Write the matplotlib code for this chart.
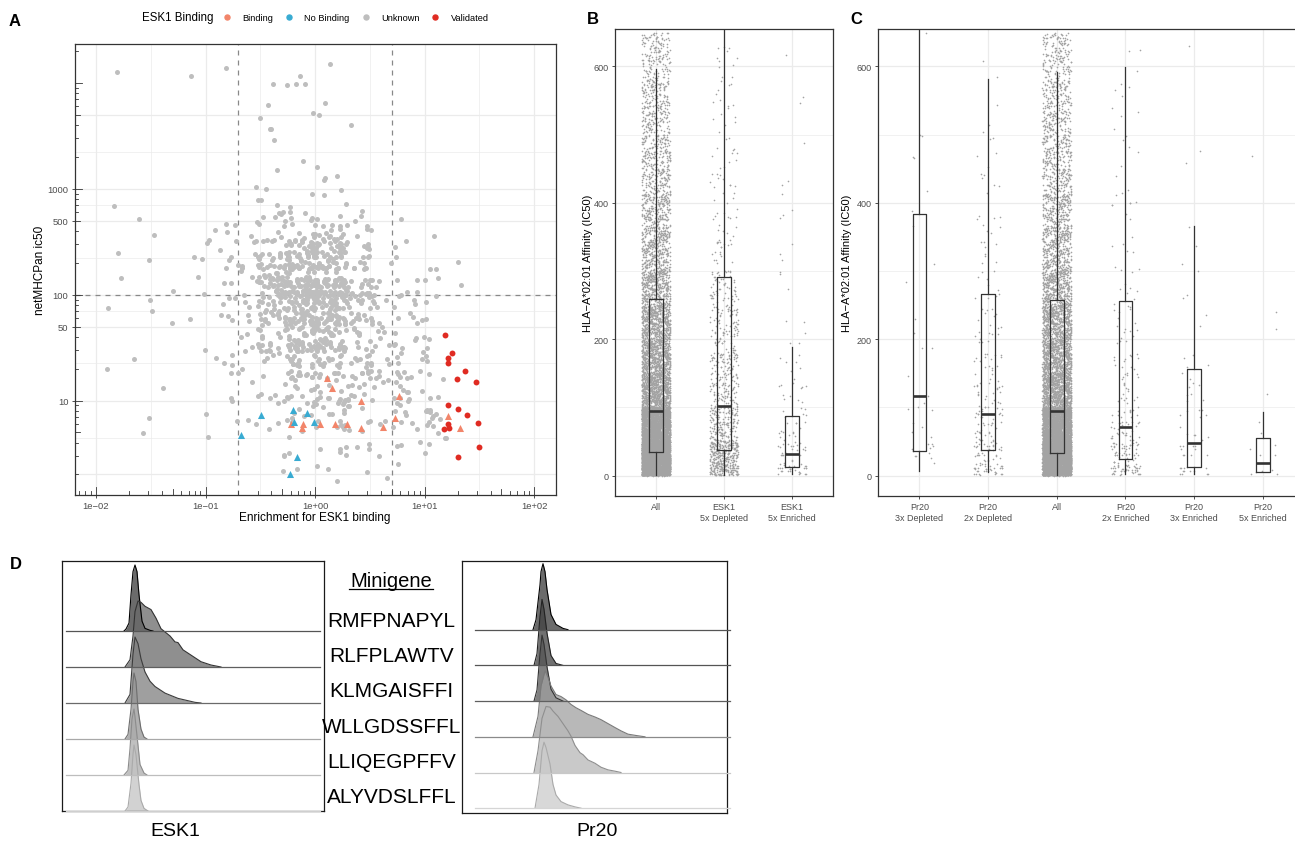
import numpy as np
import matplotlib.pyplot as plt
from matplotlib.lines import Line2D
from matplotlib.ticker import FixedLocator, NullLocator

plt.rcParams['font.family'] = ['Liberation Sans', 'DejaVu Sans']

# ---------------- data ----------------
# panel A: enrichment vs netMHCpan ic50
validated_x = [15.3, 17.7, 16.2, 16.5, 23.1, 19.7, 29.7, 16.2, 20.2, 24.3, 16.2, 30.4, 16.6, 15.1, 31.5, 20.1]
validated_y = [41.3, 28.3, 25.1, 22.6, 18.9, 15.8, 14.9, 9.06, 8.26, 7.24, 5.96, 6.1, 5.5, 5.35, 3.61, 2.93]
binding_x = [1.29, 1.44, 2.60, 5.78, 5.35, 16.4, 21.1, 0.607, 0.774, 0.764, 1.12, 1.52, 1.94, 2.60, 4.19]
binding_y = [16.2, 13.1, 10.0, 11.1, 6.84, 7.10, 5.50, 6.04, 6.0, 5.5, 6.0, 6.0, 6.04, 5.5, 5.58]
nobinding_x = [0.628, 0.836, 0.321, 0.969, 0.637, 0.213, 0.678, 0.589]
nobinding_y = [8.19, 7.57, 7.24, 6.3, 6.22, 4.74, 2.93, 2.02]

# sparse "Unknown" points outside the dense cloud (top, left, right)
unknown_x = [0.0156, 0.0731, 0.153, 1.36, 0.409, 0.553, 0.673, 0.802, 0.722, 1.24, 0.371, 0.962, 1.08,
             0.316, 2.11, 0.387, 0.394, 0.425, 0.774, 1.04, 0.446, 1.59, 1.22, 1.21, 0.291,
             0.0147, 0.0247, 0.0336, 0.0158, 0.0305, 0.0168, 0.0778, 0.0934, 0.0853, 0.123,
             0.157, 0.153, 0.103, 0.107, 0.135, 0.155, 0.0504, 0.0128, 0.0313, 0.0324,
             0.0498, 0.0727, 0.0221, 0.0125, 0.0412, 0.0305, 0.0269, 0.0967, 0.0988, 0.102,
             0.105, 0.147, 0.172, 0.175, 0.149, 0.125, 0.139, 0.159, 0.144, 0.164, 0.175,
             12.2, 11.3, 12.6, 20.1, 13.2, 21.4, 12.8, 10.3, 11.0, 11.2,
             13.3, 10.6, 11.2, 12.6, 11.9, 10.9, 15.4, 11.0, 13.3, 10.3,
             11.1, 11.7, 13.7, 11.9, 14.7, 10.9, 10.3, 10.5, 15.7]
unknown_y = [12800, 11700, 14000, 15200, 9860, 9660, 9860, 9860, 11700, 6530, 6250, 5250, 5030,
             4710, 4040, 3710, 3710, 2920, 1850, 1620, 1520, 1330, 1260, 1220, 1050,
             693, 520, 369, 250, 214, 145, 227, 219, 148, 411,
             394, 469, 310, 327, 266, 180, 109, 75.3, 89.7, 70.6,
             54.4, 59.3, 24.8, 20.0, 13.2, 6.87, 4.97, 102, 30.2, 7.50,
             4.55, 129, 129, 27.1, 22.7, 25.4, 64.3, 63.4, 81.7, 93, 9.96,
             361, 175, 175, 205, 145, 124, 97.2, 85.9, 38.1, 10.5,
             10.9, 8.13, 7.78, 7.41, 7.18, 6.26, 4.43, 3.86, 4.97, 8.0,
             8.2, 6.9, 6.68, 5.78, 16.0, 17.8, 26.5, 23.8, 4.39]

# dense cloud: counts per quarter-decade cell, x log10 -0.75..1.0, y log10 0.25..3.0 (bottom row first)
cloud_x_edges = [-0.75, -0.5, -0.25, 0.0, 0.25, 0.5, 0.75]
cloud_y_edges = [0.25, 0.5, 0.75, 1.0, 1.25, 1.5, 1.75, 2.0, 2.25, 2.5, 2.75]
cloud_counts = [
    [0, 1, 2, 2, 1, 1, 1],
    [1, 1, 4, 5, 5, 3, 4],
    [3, 5, 8, 12, 10, 9, 8],
    [2, 6, 14, 14, 12, 10, 8],
    [4, 11, 22, 28, 16, 10, 8],
    [6, 14, 40, 38, 16, 8, 8],
    [7, 26, 55, 55, 22, 6, 6],
    [7, 40, 60, 60, 22, 5, 4],
    [6, 24, 44, 44, 16, 3, 1],
    [5, 10, 16, 18, 10, 1, 0],
    [1, 4, 2, 3, 1, 0, 0],
]

# panels B and C: box statistics and point counts per 50-unit bin (0..650)
bin_edges = list(range(0, 650, 50))
all_counts = [3170, 2100, 900, 700, 600, 420, 300, 250, 200, 170, 150, 130, 120]

b_labels = ['All', 'ESK1\n5x Depleted', 'ESK1\n5x Enriched']
b_q1 = [34, 37, 12]
b_med = [95, 102, 31]
b_q3 = [259, 291, 88]
b_lo = [1, 1, 3]
b_hi = [596, 700, 188]
b_counts = [all_counts,
            [380, 170, 100, 80, 70, 60, 20, 15, 14, 12, 10, 9, 8],
            [50, 20, 12, 8, 3, 3, 3, 3, 3, 1, 1, 1, 1]]

c_labels = ['Pr20\n3x Depleted', 'Pr20\n2x Depleted', 'All',
            'Pr20\n2x Enriched', 'Pr20\n3x Enriched', 'Pr20\n5x Enriched']
c_q1 = [36, 37, 33, 25, 13, 5]
c_med = [117, 90, 94, 71, 48, 18]
c_q3 = [384, 267, 257, 256, 156, 55]
c_lo = [6, 5, 1, 3, 3, 5]
c_hi = [700, 582, 592, 599, 366, 93]
c_counts = [[10, 6, 4, 2, 2, 1, 1, 2, 1, 4, 0, 0, 1],
            [70, 40, 28, 18, 16, 10, 8, 8, 6, 5, 3, 1, 1],
            all_counts,
            [90, 40, 22, 15, 14, 8, 8, 6, 5, 5, 4, 5, 2],
            [22, 12, 8, 5, 2, 3, 2, 1, 0, 2, 0, 0, 1],
            [8, 2, 1, 0, 2, 0, 0, 0, 0, 1, 0, 0, 0]]

# panel D: histograms (channel, % of mode)
peptides = ['RMFPNAPYL', 'RLFPLAWTV', 'KLMGAISFFI', 'WLLGDSSFFL', 'LLIQEGPFFV', 'ALYVDSLFFL']
esk1_x = [[62, 64, 67, 69, 71, 73, 75, 77, 80, 83, 88, 91],
          [63, 68, 71, 73, 76, 79, 83, 89, 94, 99, 108, 113, 116, 121, 129, 139, 149, 159],
          [63, 68, 71, 73, 76, 79, 83, 88, 93, 103, 116, 133, 139],
          [63, 66, 69, 71, 72, 74, 76, 79, 82, 85],
          [62, 66, 68, 70, 72, 73, 76, 78, 82, 85],
          [63, 66, 69, 71, 72, 74, 77, 79, 82, 86]]
esk1_h = [[0, 3, 12, 55, 90, 100, 90, 55, 15, 4, 1, 0],
          [0, 11, 47, 84, 100, 98, 92, 87, 74, 58, 47, 38, 37, 26, 18, 8, 3, 0],
          [0, 13, 74, 100, 90, 67, 47, 33, 25, 15, 7, 1, 0],
          [0, 7, 45, 87, 100, 87, 45, 15, 3, 0],
          [0, 7, 40, 85, 100, 88, 45, 16, 3, 0],
          [0, 6, 42, 86, 100, 85, 40, 16, 4, 0]]
pr20_x = [[71, 74, 78, 79, 81, 83, 85, 89, 94, 101, 106],
          [72, 75, 78, 80, 82, 85, 89, 94, 101],
          [72, 75, 78, 80, 82, 85, 89, 94, 101],
          [71, 76, 79, 83, 86, 89, 94, 99, 104, 109, 114, 119, 126, 133, 139, 146, 153, 159, 166, 174, 183],
          [72, 76, 80, 84, 88, 91, 96, 101, 106, 109, 113, 118, 121, 126, 133, 139, 146, 153, 159],
          [73, 77, 80, 82, 84, 88, 91, 94, 99, 106, 113, 119]]
pr20_h = [[0, 15, 68, 88, 100, 88, 61, 23, 8, 2, 0],
          [0, 18, 74, 100, 85, 49, 15, 3, 0],
          [0, 17, 72, 100, 86, 52, 18, 5, 0],
          [0, 31, 77, 100, 90, 77, 64, 61, 56, 49, 44, 40, 34, 30, 26, 20, 14, 9, 4, 2, 0],
          [0, 33, 82, 100, 99, 93, 85, 74, 63, 55, 41, 30, 27, 19, 14, 8, 4, 2, 0],
          [0, 36, 87, 100, 92, 67, 36, 20, 10, 5, 2, 0]]

# ---------------- figure ----------------
W, H = 1295, 845
fig = plt.figure(figsize=(W / 100, H / 100), dpi=100)
DARK = '#333333'
GRID = '#ebebeb'
TICKLAB = '#4d4d4d'


def px_axes(l, t, r, b):
    return fig.add_axes([l / W, 1 - b / H, (r - l) / W, (b - t) / H])


def ftext(x, y, s, **kw):
    fig.text(x / W, 1 - y / H, s, **kw)


def style_spines(ax, color=DARK, lw=0.9):
    for s in ax.spines.values():
        s.set_color(color)
        s.set_linewidth(lw)


def spread(k):
    # deterministic, irregular placement inside a cell (jitter), values in [0, 1)
    k = np.asarray(k, dtype=float)
    u = (k * 0.7548776662 + k * k * 0.1234567) % 1
    v = (k * 0.5698402910 + k * k * 0.3183099) % 1
    return u, v


# ---------------- panel A ----------------
axA = px_axes(74.7, 44.7, 555.7, 496)
axA.set_xscale('log')
axA.set_yscale('log')
axA.set_xlim(0.0064, 157)
axA.set_ylim(1.28, 23500)
for v in [0.01, 0.1, 1, 10, 100]:
    axA.axvline(v, color=GRID, lw=0.9, zorder=0)
for v in 10 ** np.array([-1.5, -0.5, 0.5, 1.5]):
    axA.axvline(v, color=GRID, lw=0.5, zorder=0)
for v in [2, 10, 50, 100, 500, 1000, 5000]:
    axA.axhline(v, color=GRID, lw=0.9, zorder=0)
for v in 10 ** np.array([0.65, 1.35, 1.85, 2.35, 2.85, 3.35]):
    axA.axhline(v, color=GRID, lw=0.5, zorder=0)

axA.axvline(0.2, color='#888888', lw=0.9, ls=(0, (4, 4)), zorder=1)
axA.axvline(5, color='#888888', lw=0.9, ls=(0, (4, 4)), zorder=1)
axA.axhline(100, color='#888888', lw=0.9, ls=(0, (4, 4)), zorder=1)

cx, cy = [], []
for i, row in enumerate(cloud_counts):
    for j, n in enumerate(row):
        u, v = spread(np.arange(n) + 53 * i + 13 * j + 1)
        # spill slightly over the cell edges so the cells do not show as blocks
        cx += list(10 ** (cloud_x_edges[j] + 0.25 * (1.3 * u - 0.15)))
        cy += list(10 ** (cloud_y_edges[i] + 0.25 * (1.3 * v - 0.15)))

C_BIND, C_NOB, C_UNK, C_VAL = '#F2856A', '#38ABD2', '#BEBEBE', '#E02B22'
axA.scatter(cx + unknown_x, cy + unknown_y, s=13, color=C_UNK, lw=0, zorder=2)
axA.scatter(binding_x, binding_y, s=26, marker='^', color=C_BIND, lw=0, zorder=3)
axA.scatter(nobinding_x, nobinding_y, s=26, marker='^', color=C_NOB, lw=0, zorder=3)
axA.scatter(validated_x, validated_y, s=18, color=C_VAL, lw=0, zorder=3)

axA.xaxis.set_major_locator(FixedLocator([0.01, 0.1, 1, 10, 100]))
axA.xaxis.set_minor_locator(NullLocator())
axA.set_xticklabels(['1e\u221202', '1e\u221201', '1e+00', '1e+01', '1e+02'])
axA.yaxis.set_major_locator(FixedLocator([10, 50, 100, 500, 1000]))
axA.yaxis.set_minor_locator(NullLocator())
axA.set_yticklabels(['10', '50', '100', '500', '1000'])
axA.tick_params(length=2.5, width=0.6, color=DARK, labelcolor=TICKLAB, labelsize=6.8, pad=2)
style_spines(axA)

# log ticks drawn inside the panel, like annotation_logticks
for k in range(-3, 3):
    for d in range(1, 10):
        v = d * 10.0 ** k
        if 0.0064 < v < 157:
            L = 7.5 if d == 1 else (5.5 if d == 5 else 3.5)
            axA.plot([v, v], [0, L / 451], transform=axA.get_xaxis_transform(),
                     color=DARK, lw=0.6, clip_on=False, zorder=4)
for k in range(0, 5):
    for d in range(1, 10):
        v = d * 10.0 ** k
        if 1.28 < v < 23500:
            L = 7.5 if d == 1 else (5.5 if d == 5 else 3.5)
            axA.plot([0, L / 481], [v, v], transform=axA.get_yaxis_transform(),
                     color=DARK, lw=0.6, clip_on=False, zorder=4)

ftext(315, 518, 'Enrichment for ESK1 binding', ha='center', va='center', fontsize=8.5)
ftext(40, 270, 'netMHCPan ic50', ha='center', va='center', rotation=90, fontsize=8.5)

# legend on top
ftext(141.7, 18.3, 'ESK1 Binding', ha='left', va='center', fontsize=8.3)
for xm, xl, col, lab in [(226.7, 242.7, C_BIND, 'Binding'), (289.3, 304.3, C_NOB, 'No Binding'),
                         (366, 381, C_UNK, 'Unknown'), (435, 450.7, C_VAL, 'Validated')]:
    fig.add_artist(Line2D([xm / W], [1 - 18.3 / H], marker='o', ms=3.6, color=col, lw=0,
                          transform=fig.transFigure))
    ftext(xl, 18.3, lab, ha='left', va='center', fontsize=6.7)


# ---------------- panels B and C ----------------
def affinity_panel(ax, labels, q1, med, q3, lo, hi, counts):
    n = len(labels)
    ax.set_xlim(0.4, n + 0.6)
    ax.set_ylim(-30, 655)
    for v in [0, 200, 400, 600]:
        ax.axhline(v, color=GRID, lw=0.9, zorder=0)
    for v in [100, 300, 500]:
        ax.axhline(v, color=GRID, lw=0.5, zorder=0)
    for c in range(1, n + 1):
        ax.axvline(c, color=GRID, lw=0.9, zorder=0)
    for c, cnt in enumerate(counts):
        xs, ys = [], []
        for b, m in enumerate(cnt):
            u, v = spread(np.arange(m) + 131 * b + 17 * c + 3)
            xs.append(c + 1 + 0.21 * (2 * u - 1))
            ys.append(bin_edges[b] + 50 * v)
        ax.scatter(np.concatenate(xs), np.concatenate(ys), s=1.4, color='#a3a3a3', lw=0, zorder=2)
    stats = [dict(med=med[i], q1=q1[i], q3=q3[i], whislo=lo[i], whishi=hi[i]) for i in range(n)]
    ax.bxp(stats, positions=list(range(1, n + 1)), widths=0.2, showfliers=False, showcaps=False,
           boxprops=dict(color=DARK, lw=0.9, zorder=3),
           whiskerprops=dict(color=DARK, lw=0.9, zorder=3),
           medianprops=dict(color=DARK, lw=1.9, zorder=3, solid_capstyle='butt'))
    ax.set_xticks(range(1, n + 1))
    ax.set_xticklabels(labels)
    ax.set_yticks([0, 200, 400, 600])
    ax.set_yticklabels(['0', '200', '400', '600'])
    ax.tick_params(length=2.5, width=0.6, color=DARK, labelcolor=TICKLAB, labelsize=6.5, pad=2)
    style_spines(ax)


axB = px_axes(615, 30, 833, 497)
affinity_panel(axB, b_labels, b_q1, b_med, b_q3, b_lo, b_hi, b_counts)
axC = px_axes(878.3, 30, 1304, 497)
affinity_panel(axC, c_labels, c_q1, c_med, c_q3, c_lo, c_hi, c_counts)

ylab = 'HLA\u2212A*02:01 Affinity (IC50)'
ftext(588, 263, ylab, ha='center', va='center', rotation=90, fontsize=8)
ftext(847, 263, ylab, ha='center', va='center', rotation=90, fontsize=8)


# ---------------- panel D ----------------
def ridge_panel(ax, xs_list, hs_list, width, height, base0, step, line_x, fills, edges, bases):
    ax.set_xlim(0, width)
    ax.set_ylim(height, 0)
    ax.set_xticks([])
    ax.set_yticks([])
    style_spines(ax, color='#1a1a1a', lw=0.9)
    scale = 0.66
    for i, (xs, hs) in enumerate(zip(xs_list, hs_list)):
        b = base0 + step * i
        top = b - np.array(hs) * scale
        ax.fill_between(xs, top, b, color=fills[i], alpha=0.75, lw=0, zorder=2)
        ax.plot(xs, top, color=edges[i], lw=0.8, zorder=3)
    for i in range(len(xs_list)):
        b = base0 + step * i
        ax.plot(line_x, [b, b], color=bases[i], lw=0.9, zorder=4, clip_on=False)


axD1 = px_axes(62, 562, 324, 812)
ridge_panel(axD1, esk1_x, esk1_h, 262, 250, 70, 36, [3.7, 258],
            ['#3a3a3a', '#6a6a6a', '#7f7f7f', '#969696', '#ababab', '#c4c4c4'],
            ['#000000', '#333333', '#3c3c3c', '#6e6e6e', '#8c8c8c', '#aaaaaa'],
            ['#555555', '#5f5f5f', '#6a6a6a', '#a8a8a8', '#bdbdbd', '#cfcfcf'])
axD2 = px_axes(462, 562, 727, 814)
ridge_panel(axD2, pr20_x, pr20_h, 265, 252, 68.7, 35.7, [12.7, 268],
            ['#3a3a3a', '#424242', '#555555', '#a0a0a0', '#b8b8b8', '#cbcbcb'],
            ['#000000', '#222222', '#333333', '#7a7a7a', '#8f8f8f', '#aaaaaa'],
            ['#555555', '#555555', '#5f5f5f', '#8a8a8a', '#c8c8c8', '#d5d5d5'])

ftext(391, 586.7, 'Minigene', ha='center', va='baseline', fontsize=14.5)
fig.add_artist(Line2D([349 / W, 433 / W], [1 - 589.5 / H, 1 - 589.5 / H], color='black', lw=0.9,
                      transform=fig.transFigure))
for i, p in enumerate(peptides):
    ftext(391.5, 626.7 + 35.3 * i, p, ha='center', va='baseline', fontsize=15)
ftext(175, 832, 'ESK1', ha='center', va='center', fontsize=14)
ftext(597, 832, 'Pr20', ha='center', va='center', fontsize=14)

# panel letters
for x, y, s in [(15, 22, 'A'), (593, 20, 'B'), (856, 20, 'C'), (16, 565, 'D')]:
    ftext(x, y, s, ha='center', va='center', fontsize=12, fontweight='bold')

fig.savefig('out.png', dpi=100)
